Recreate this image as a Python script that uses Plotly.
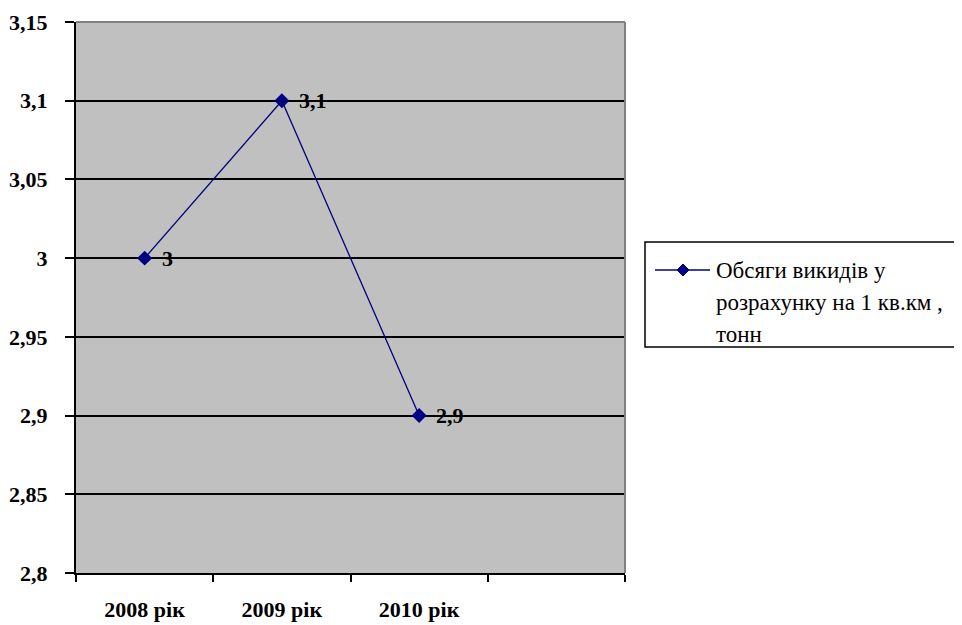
import plotly.graph_objects as go

categories = ["2008 рік", "2009 рік", "2010 рік"]
values = [3.0, 3.1, 2.9]
value_labels = ["3", "3,1", "2,9"]
y_ticks = [2.8, 2.85, 2.9, 2.95, 3.0, 3.05, 3.1, 3.15]
y_tick_labels = ["2,8", "2,85", "2,9", "2,95", "3", "3,05", "3,1", "3,15"]
legend_lines = ["Обсяги викидів у", "розрахунку на 1 кв.км ,", "тонн"]

OFF = 8  # page body margin
W, H = 962, 625
L, R, T, B = 76 - OFF, 625 - OFF, 22 - OFF, 573 - OFF
pw, ph = R - L, B - T

def px(x):
    return (x - OFF - L) / pw

def py(y):
    return (B - (y - OFF)) / ph

NAVY = "#000080"
FONT = "Liberation Serif"

x_idx = list(range(len(categories)))

fig = go.Figure()
fig.add_trace(go.Scatter(
    x=x_idx, y=values, mode="lines+markers",
    line=dict(color=NAVY, width=1.3),
    marker=dict(symbol="diamond", size=11.5, color=NAVY),
    showlegend=False, cliponaxis=False,
))

for xi, yv, lab in zip(x_idx, values, value_labels):
    fig.add_annotation(
        x=xi, y=yv, xref="x", yref="y", xanchor="left", yanchor="middle",
        xshift=15, showarrow=False, text=lab,
        font=dict(family=FONT, size=22, color="black", weight="bold"),
    )

fig.update_layout(
    template="none",
    font=dict(family=FONT, size=22, color="black"),
    width=W, height=H,
    margin=dict(l=L, r=W - R, t=T, b=H - B, autoexpand=False),
    paper_bgcolor="white", plot_bgcolor="#C0C0C0",
    separators=", ",
    showlegend=False,
    xaxis=dict(
        range=[-0.5, 3.5], automargin=False,
        tickvals=x_idx, ticktext=categories,
        ticks="outside", ticklen=16, tickcolor="rgba(0,0,0,0)",
        tickfont=dict(family=FONT, size=22, color="black", weight="bold"),
        showgrid=False, zeroline=False,
        showline=True, linecolor="black", linewidth=2,
        minor=dict(tickvals=[-0.5, 0.5, 1.5, 2.5, 3.5], ticks="outside",
                   ticklen=7, tickcolor="black", tickwidth=2, showgrid=False),
    ),
    yaxis=dict(
        range=[2.8, 3.15], automargin=False,
        tickvals=y_ticks, ticktext=y_tick_labels,
        ticks="outside", ticklen=9, tickcolor="black", tickwidth=2,
        ticklabelstandoff=13,
        tickfont=dict(family=FONT, size=22, color="black", weight="bold"),
        showgrid=True, gridcolor="black", gridwidth=1.5,
        zeroline=False,
        showline=True, linecolor="black", linewidth=2,
    ),
)

shapes = [
    dict(type="line", xref="paper", yref="paper", x0=0, x1=1, y0=1, y1=1,
         line=dict(color="#808080", width=2)),
    dict(type="line", xref="paper", yref="paper", x0=1, x1=1, y0=0, y1=1,
         line=dict(color="#808080", width=2)),
    # legend box
    dict(type="rect", xref="paper", yref="paper",
         x0=px(645), x1=px(975), y0=py(347), y1=py(242),
         line=dict(color="black", width=1.5), fillcolor="white"),
    dict(type="line", xref="paper", yref="paper",
         x0=px(655), x1=px(710), y0=py(270), y1=py(270),
         line=dict(color=NAVY, width=1.5)),
    dict(type="path", xref="paper", yref="paper",
         xsizemode="pixel", ysizemode="pixel",
         xanchor=px(683), yanchor=py(270),
         path="M -6 0 L 0 6 L 6 0 L 0 -6 Z",
         fillcolor=NAVY, line=dict(color=NAVY, width=1)),
]
fig.update_layout(shapes=shapes)

for txt, yy in zip(legend_lines, [270, 302, 334]):
    fig.add_annotation(
        x=px(714), y=py(yy), xref="paper", yref="paper",
        xanchor="left", yanchor="middle", showarrow=False,
        text=txt, font=dict(family=FONT, size=23, color="black"),
    )

fig.write_html("out.html")
